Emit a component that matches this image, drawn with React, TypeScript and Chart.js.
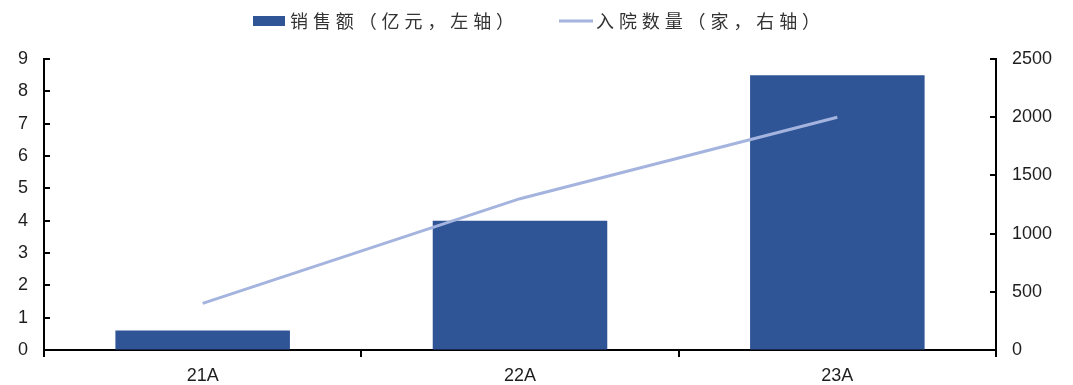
import React, { useEffect, useRef } from "react";
import { Chart, registerables } from "chart.js";

Chart.register(...registerables);

const categories = ["21A", "22A", "23A"];
const salesValues = [0.6, 4.0, 8.5]; // 亿元, left axis
const hospitalCounts = [400, 1300, 2000]; // 家, right axis
const salesLabel = "销售额（亿元，左轴）";
const hospitalLabel = "入院数量（家，右轴）";

const BAR_COLOR = "#2F5597";
const LINE_COLOR = "#A4B4DE";
const TEXT_COLOR = "#1e1e1e";
const TICK_FONT = { family: "'Liberation Sans', Arial, sans-serif", size: 18 };

// Small tick marks pointing into the plot from both value axes
const innerTicks = {
  id: "innerTicks",
  afterDraw(chart: any) {
    const ctx = chart.ctx;
    const area = chart.chartArea;
    ctx.save();
    ctx.strokeStyle = "#000";
    ctx.lineWidth = 2;
    const drawFor = (id: string, x: number, dir: number) => {
      const scale = chart.scales[id];
      scale.ticks.forEach((t: any) => {
        const y = Math.round(scale.getPixelForValue(t.value));
        ctx.beginPath();
        ctx.moveTo(x, y);
        ctx.lineTo(x + dir * 6, y);
        ctx.stroke();
      });
    };
    drawFor("y", area.left, 1);
    drawFor("y1", area.right, -1);
    ctx.restore();
  },
};

// Legend row above the plot
const topLegend = {
  id: "topLegend",
  afterDraw(chart: any) {
    const ctx = chart.ctx;
    ctx.save();
    ctx.font = "18px 'Noto Sans CJK SC', sans-serif";
    (ctx as any).letterSpacing = "4.9px";
    ctx.textBaseline = "middle";
    ctx.textAlign = "left";
    const cy = 21;
    // bar swatch
    ctx.fillStyle = BAR_COLOR;
    ctx.fillRect(253, 16, 32, 10);
    ctx.fillStyle = "#333333";
    ctx.fillText(chart.data.datasets[0].label, 290, cy);
    // line swatch
    ctx.strokeStyle = LINE_COLOR;
    ctx.lineWidth = 3;
    ctx.beginPath();
    ctx.moveTo(559, cy);
    ctx.lineTo(593, cy);
    ctx.stroke();
    ctx.fillText(chart.data.datasets[1].label, 596, cy);
    ctx.restore();
  },
};

export default function App() {
  const canvasRef = useRef<HTMLCanvasElement | null>(null);

  useEffect(() => {
    if (!canvasRef.current) return;
    const chart = new Chart(canvasRef.current, {
      type: "bar",
      data: {
        labels: categories,
        datasets: [
          {
            type: "bar",
            label: salesLabel,
            data: salesValues,
            backgroundColor: BAR_COLOR,
            yAxisID: "y",
            barPercentage: 0.55,
            categoryPercentage: 1,
            order: 2,
          },
          {
            type: "line",
            label: hospitalLabel,
            data: hospitalCounts,
            borderColor: LINE_COLOR,
            backgroundColor: LINE_COLOR,
            borderWidth: 3,
            pointRadius: 0,
            tension: 0,
            yAxisID: "y1",
            order: 1,
          },
        ] as any,
      },
      options: {
        animation: false,
        responsive: true,
        maintainAspectRatio: false,
        layout: { padding: { top: 59, left: 0, right: 0, bottom: 0 } },
        plugins: {
          legend: { display: false },
          tooltip: { enabled: false },
        },
        scales: {
          x: {
            type: "category",
            offset: true,
            grid: {
              offset: true,
              drawOnChartArea: false,
              drawTicks: true,
              tickLength: 7,
              color: "#000",
              lineWidth: 2,
            },
            border: { display: true, color: "#000", width: 2 },
            ticks: { font: TICK_FONT, color: TEXT_COLOR, padding: 8 },
            afterFit: (s: any) => {
              s.height = 35;
            },
          },
          y: {
            position: "left",
            min: 0,
            max: 9,
            ticks: { stepSize: 1, font: TICK_FONT, color: TEXT_COLOR, padding: 16 },
            grid: { drawOnChartArea: false, drawTicks: false },
            border: { display: true, color: "#000", width: 2 },
            afterFit: (s: any) => {
              s.width = 44;
            },
          },
          y1: {
            position: "right",
            min: 0,
            max: 2500,
            ticks: {
              stepSize: 500,
              font: TICK_FONT,
              color: TEXT_COLOR,
              padding: 16,
              callback: (v: any) => String(v),
            },
            grid: { drawOnChartArea: false, drawTicks: false },
            border: { display: true, color: "#000", width: 2 },
            afterFit: (s: any) => {
              s.width = 77;
            },
          },
        },
      },
      plugins: [innerTicks, topLegend],
    });
    return () => chart.destroy();
  }, []);

  return (
    <div style={{ position: "fixed", left: 0, top: 0, width: 1073, height: 385, background: "#fff" }}>
      <canvas ref={canvasRef} />
    </div>
  );
}
